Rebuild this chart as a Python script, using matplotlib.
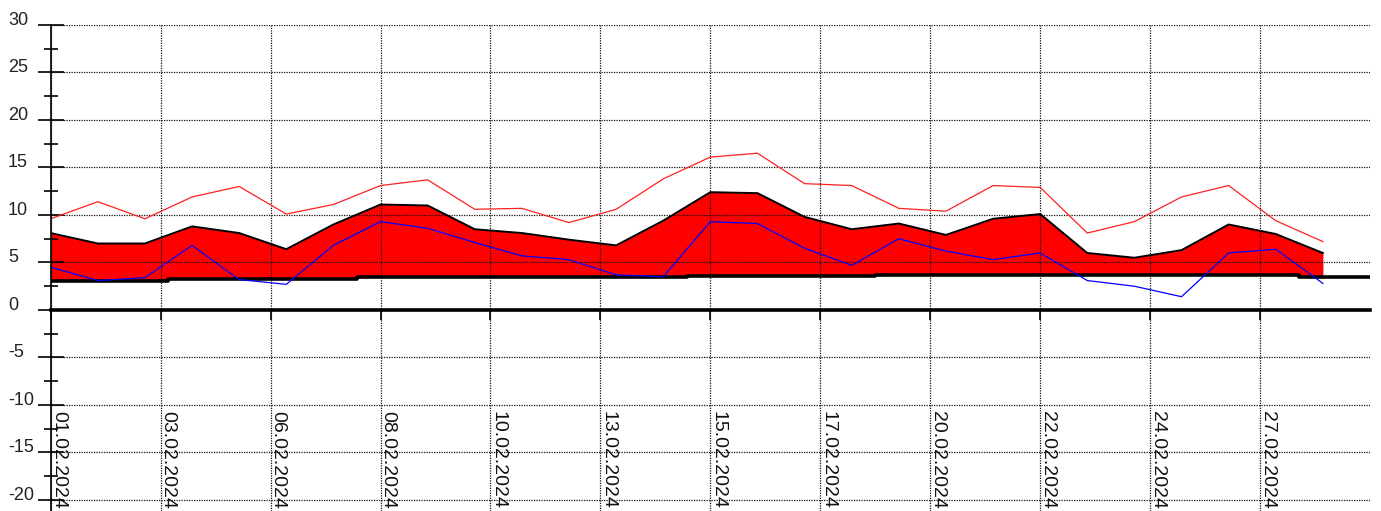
import numpy as np
import matplotlib.pyplot as plt
import matplotlib.transforms as mtransforms

plt.rcParams['font.family'] = ['Liberation Sans', 'DejaVu Sans']

# one value per day, 01.02.2024 .. 28.02.2024
days = np.arange(28)
t_max = [9.6, 11.4, 9.6, 11.9, 13.0, 10.1, 11.1, 13.1, 13.7, 10.6,
         10.7, 9.2, 10.6, 13.8, 16.1, 16.5, 13.3, 13.1, 10.7, 10.4,
         13.1, 12.9, 8.1, 9.3, 11.9, 13.1, 9.4, 7.2]
t_mean = [8.1, 7.0, 7.0, 8.8, 8.1, 6.4, 9.0, 11.1, 11.0, 8.5,
          8.1, 7.4, 6.8, 9.4, 12.4, 12.3, 9.8, 8.5, 9.1, 7.9,
          9.6, 10.1, 6.0, 5.5, 6.3, 9.0, 8.0, 6.0]
t_min = [4.5, 3.1, 3.4, 6.8, 3.2, 2.7, 6.8, 9.3, 8.6, 7.1,
         5.7, 5.3, 3.7, 3.5, 9.3, 9.1, 6.5, 4.7, 7.5, 6.2,
         5.3, 6.0, 3.1, 2.5, 1.4, 6.0, 6.4, 2.8]
# reference line, runs on to 29.02
base_days = np.arange(29)
base = [3.1, 3.1, 3.1, 3.3, 3.3, 3.3, 3.3, 3.45, 3.45, 3.45,
        3.45, 3.45, 3.45, 3.45, 3.55, 3.55, 3.55, 3.55, 3.65, 3.65,
        3.65, 3.65, 3.65, 3.65, 3.65, 3.65, 3.65, 3.5, 3.5]

date_labels = ['01.02.2024', '03.02.2024', '06.02.2024', '08.02.2024',
               '10.02.2024', '13.02.2024', '15.02.2024', '17.02.2024',
               '20.02.2024', '22.02.2024', '24.02.2024', '27.02.2024']
y_labels = [30, 25, 20, 15, 10, 5, 0, -5, -10, -15, -20]

W, H = 1381, 511
fig = plt.figure(figsize=(W / 100, H / 100), dpi=100)
ax = fig.add_axes([50.7 / W, 0, (1370 - 50.7) / W, (H - 25) / H])
ax.set_xlim(0, 28)
ax.set_ylim(-21.16, 30)

ax.fill_between(days, base[:28], t_mean, color='#ff0000', lw=0, zorder=1)
ax.plot(base_days, base, color='black', lw=2.6, drawstyle='steps-mid', zorder=2)
ax.plot(days, t_mean, color='black', lw=1.4, zorder=2.1)
ax.plot(days, t_max, color='#ff2020', lw=0.9, zorder=2.1)
ax.plot(days, t_min, color='#0000ff', lw=0.9, zorder=2.2)

for s in ['top', 'right']:
    ax.spines[s].set_visible(False)
ax.spines['bottom'].set_position(('data', 0))
ax.spines['bottom'].set_linewidth(2.6)
ax.spines['left'].set_linewidth(1.2)

xt = np.arange(len(date_labels)) * 28 / len(date_labels)
ax.set_xticks(xt)
ax.set_yticks(y_labels)
ax.set_yticks(np.array(y_labels[:-1]) - 2.5, minor=True)
ax.tick_params(axis='y', which='major', direction='inout', length=18.7,
               width=1.2, labelleft=False)
ax.tick_params(axis='y', which='minor', direction='inout', length=9.4,
               width=1.2)
ax.tick_params(axis='x', direction='out', length=7, width=1.2,
               labelbottom=False)
ax.set_axisbelow('line')
ax.grid(True, which='major', color='#111111', linestyle=(0, (1, 1)), lw=0.9)

trans = mtransforms.blended_transform_factory(fig.transFigure, ax.transData)
for v in y_labels:
    ax.text(8 / W, v, str(v), transform=trans, ha='left', va='baseline',
            fontsize=13, color='#222222')
for x, lab in zip(xt, date_labels):
    ax.text(x - 0.02, -10.6, lab, rotation=-90, ha='left', va='top',
            fontsize=14, color='#111111')

fig.savefig('out.png', dpi=100)
